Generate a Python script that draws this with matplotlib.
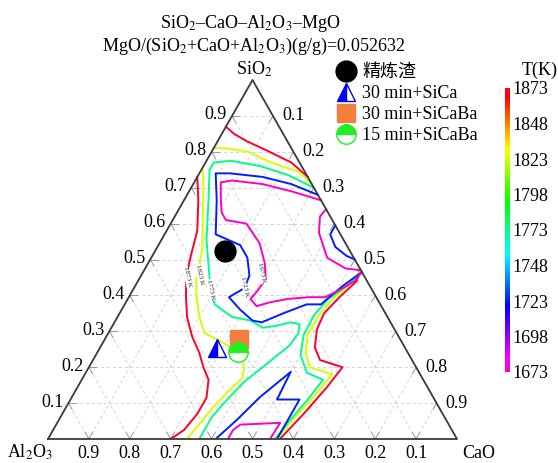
import numpy as np
import matplotlib
matplotlib.use('Agg')
import matplotlib.pyplot as plt
from matplotlib.colors import Normalize
from matplotlib.cm import ScalarMappable

plt.rcParams['font.family'] = ['Liberation Serif', 'Noto Sans CJK SC']
plt.rcParams['mathtext.fontset'] = 'stix'

H = np.sqrt(3) / 2

# isotherms, points are (SiO2, CaO) mass fractions
red_top = [(0.87, 0.0), (0.85, 0.03), (0.83, 0.07), (0.805, 0.13), (0.77, 0.21), (0.73, 0.27)]
red_left = [(0.73, 0.0), (0.665, 0.035), (0.58, 0.075), (0.525, 0.09), (0.49, 0.10), (0.445, 0.115),
            (0.395, 0.14), (0.34, 0.17), (0.285, 0.21), (0.24, 0.25), (0.20, 0.28), (0.165, 0.31),
            (0.115, 0.33), (0.07, 0.33), (0.025, 0.32), (0.0, 0.30)]
red_right = [(0.475, 0.525), (0.44, 0.535), (0.395, 0.515), (0.35, 0.50), (0.305, 0.505), (0.255, 0.525),
             (0.22, 0.555), (0.20, 0.62), (0.145, 0.61), (0.07, 0.59), (0.0, 0.567)]

yel_top = [(0.81, 0.0), (0.81, 0.03), (0.80, 0.09), (0.77, 0.16), (0.745, 0.24), (0.71, 0.29)]
yel_left = [(0.755, 0.0), (0.72, 0.02), (0.535, 0.11), (0.48, 0.13), (0.445, 0.14), (0.405, 0.16),
            (0.34, 0.20), (0.295, 0.235), (0.275, 0.28), (0.255, 0.32), (0.23, 0.355), (0.20, 0.38),
            (0.17, 0.39), (0.135, 0.375), (0.09, 0.36), (0.045, 0.35), (0.0, 0.34)]
yel_right = [(0.47, 0.53), (0.435, 0.525), (0.39, 0.50), (0.34, 0.49), (0.29, 0.49), (0.24, 0.51),
             (0.20, 0.54), (0.18, 0.605), (0.115, 0.59), (0.05, 0.57), (0.0, 0.56)]

cyan_main = [(0.70, 0.30), (0.735, 0.22), (0.76, 0.14), (0.775, 0.06), (0.77, 0.02), (0.75, 0.02),
             (0.665, 0.06), (0.555, 0.11), (0.485, 0.15), (0.415, 0.19), (0.375, 0.22), (0.34, 0.28),
             (0.33, 0.33), (0.31, 0.37), (0.315, 0.40), (0.325, 0.43), (0.32, 0.455), (0.295, 0.465),
             (0.26, 0.46), (0.235, 0.445), (0.20, 0.425), (0.16, 0.40), (0.10, 0.38), (0.06, 0.37),
             (0.0, 0.37)]
cyan_right = [(0.465, 0.535), (0.43, 0.52), (0.39, 0.49), (0.345, 0.478), (0.29, 0.48), (0.235, 0.50),
              (0.185, 0.54), (0.165, 0.59), (0.11, 0.58), (0.05, 0.565), (0.0, 0.555)]

blue_main = [(0.68, 0.32), (0.71, 0.24), (0.73, 0.16), (0.74, 0.075), (0.74, 0.04), (0.665, 0.08),
             (0.57, 0.125), (0.56, 0.15), (0.54, 0.20), (0.505, 0.235), (0.455, 0.265), (0.42, 0.27),
             (0.395, 0.245), (0.36, 0.29), (0.33, 0.335), (0.325, 0.36), (0.35, 0.40), (0.375, 0.445),
             (0.375, 0.48), (0.395, 0.49), (0.43, 0.51), (0.465, 0.535)]
blue_lobe = [(0.595, 0.405), (0.57, 0.405), (0.535, 0.435), (0.51, 0.475), (0.50, 0.50)]
blue_bottom = [(0.0, 0.41), (0.053, 0.435), (0.117, 0.46), (0.187, 0.50), (0.11, 0.505), (0.11, 0.56),
               (0.0, 0.56)]

mag_main = [(0.665, 0.335), (0.69, 0.25), (0.71, 0.17), (0.72, 0.09), (0.715, 0.065), (0.665, 0.09),
            (0.63, 0.11), (0.61, 0.13), (0.60, 0.185), (0.545, 0.245), (0.49, 0.285), (0.445, 0.31),
            (0.41, 0.305), (0.39, 0.30), (0.37, 0.325), (0.38, 0.35), (0.39, 0.39), (0.395, 0.44),
            (0.395, 0.48), (0.415, 0.505), (0.44, 0.53), (0.465, 0.535)]
mag_lobe = [(0.64, 0.36), (0.62, 0.355), (0.575, 0.375), (0.505, 0.43), (0.475, 0.49), (0.47, 0.53)]
mag_bottom = [(0.0, 0.44), (0.025, 0.44), (0.04, 0.45), (0.045, 0.545), (0.0, 0.543)]

isotherms = {
    1873: [red_top, red_left, red_right],
    1823: [yel_top, yel_left, yel_right],
    1773: [cyan_main, cyan_right],
    1723: [blue_main, blue_lobe, blue_bottom],
    1673: [mag_main, mag_lobe, mag_bottom],
}
iso_labels = {1873: (0.451, 0.115), 1823: (0.457, 0.141), 1773: (0.415, 0.189),
              1723: (0.423, 0.27), 1673: (0.462, 0.292)}

# samples (SiO2, CaO)
slag = (0.524, 0.171)
sica_30 = (0.253, 0.286)
sicaba_30 = (0.279, 0.327)
sicaba_15 = (0.242, 0.344)

t_min, t_max = 1673, 1873
cb_ticks = list(range(1673, 1874, 25))
grid_vals = [0.1, 0.2, 0.3, 0.4, 0.5, 0.6, 0.7, 0.8, 0.9]


def tern(s, c):
    s = np.asarray(s, dtype=float)
    c = np.asarray(c, dtype=float)
    return c + s / 2, s * H


cmap = plt.get_cmap('gist_rainbow_r')
norm = Normalize(t_min, t_max)

fig = plt.figure(figsize=(5.58, 4.63), dpi=100)
ax = fig.add_axes([48 / 558, 24 / 463, 409 / 558, 359 / 463])
ax.set_xlim(0, 1)
ax.set_ylim(0, H)
ax.axis('off')

# grid
for g in grid_vals:
    kw = dict(color='#cfcfcf', lw=0.6, ls=(0, (4, 3)), zorder=1)
    ax.plot(*tern([g, g], [0, 1 - g]), **kw)          # const SiO2
    ax.plot(*tern([0, 1 - g], [g, g]), **kw)          # const CaO
    ax.plot(*tern([0, 1 - g], [1 - g, 0]), **kw)      # const Al2O3

# small inward ticks on the edges
t = 0.018
tk = dict(color='#9a9a9a', lw=0.7, zorder=2)
for g in grid_vals:
    # left edge (c = 0)
    ax.plot(*tern([g, g], [0, t]), **tk)
    ax.plot(*tern([g, g - t], [0, t]), **tk)
    # right edge (s + c = 1)
    ax.plot(*tern([1 - g, 1 - g - t], [g, g]), **tk)
    ax.plot(*tern([1 - g, 1 - g - t], [g, g + t]), **tk)
    # bottom edge (s = 0)
    ax.plot(*tern([0, t], [1 - g, 1 - g]), **tk)
    ax.plot(*tern([0, t], [1 - g, 1 - g - t]), **tk)

# frame
ax.plot(*tern([0, 0, 1, 0], [0, 1, 0, 0]), color='#3a3a3a', lw=1.3, zorder=5, clip_on=False)

# tick labels
for g in grid_vals:
    x, y = tern(g, 0)
    ax.annotate(f'{g:.1f}', (x, y), xytext=(-5, 1), textcoords='offset pixels',
                ha='right', va='center', fontsize=13, annotation_clip=False)
    x, y = tern(1 - g, g)
    ax.annotate(f'{g:.1f}', (x, y), xytext=(9, 0), textcoords='offset pixels',
                ha='left', va='center', fontsize=13, annotation_clip=False)
    x, y = tern(0, 1 - g)
    ax.annotate(f'{g:.1f}', (x, y), xytext=(0, -6), textcoords='offset pixels',
                ha='center', va='top', fontsize=13, annotation_clip=False)

ax.annotate('SiO$_2$', tern(1, 0), xytext=(2, 11), textcoords='offset pixels',
            ha='center', va='center', fontsize=13, annotation_clip=False)
ax.annotate('Al$_2$O$_3$', tern(0, 0), xytext=(-18, -4), textcoords='offset pixels',
            ha='center', va='top', fontsize=13, annotation_clip=False)
ax.annotate('CaO', tern(0, 1), xytext=(22, -6), textcoords='offset pixels',
            ha='center', va='top', fontsize=13, annotation_clip=False)

# isotherms
for T, paths in isotherms.items():
    for p in paths:
        p = np.array(p)
        ax.plot(*tern(p[:, 0], p[:, 1]), color=cmap(norm(T)), lw=1.4, zorder=3)
    lx, ly = tern(*iso_labels[T])
    ax.text(lx, ly, f'{T} K', fontsize=5, rotation=-78, ha='center', va='center',
            color='#222222', zorder=4,
            bbox=dict(facecolor='white', edgecolor='none', pad=0.2))

# samples
h1, = ax.plot(*tern(*slag), 'o', ms=15, color='black', zorder=6, label='精炼渣')
h2, = ax.plot(*tern(*sica_30), '^', ms=13, color='blue', fillstyle='left',
              markerfacecoloralt='white', mec='blue', mew=1, zorder=6, label='30 min+SiCa')
h3, = ax.plot(*tern(*sicaba_30), 's', ms=13, color='#f47f3c', mec='#f47f3c', zorder=6,
              label='30 min+SiCaBa')
h4, = ax.plot(*tern(*sicaba_15), 'o', ms=14, color='#22ee22', fillstyle='top',
              markerfacecoloralt='white', mec='#22ee22', mew=1, zorder=6, label='15 min+SiCaBa')

fig.legend(handles=[h1, h2, h3, h4], loc='upper left', bbox_to_anchor=(337 / 558, 1 - 64 / 463),
           frameon=False, fontsize=13, handlelength=1.0, handletextpad=0.4,
           labelspacing=0.22, borderpad=0, borderaxespad=0)

fig.text(250 / 558, 1 - 23 / 463, 'SiO$_2$–CaO–Al$_2$O$_3$–MgO', ha='center', va='center', fontsize=13)
fig.text(254 / 558, 1 - 46 / 463, 'MgO/(SiO$_2$+CaO+Al$_2$O$_3$)(g/g)=0.052632',
         ha='center', va='center', fontsize=13)

# colorbar
cax = fig.add_axes([505 / 558, (463 - 372) / 463, 5 / 558, 284 / 463])
cb = fig.colorbar(ScalarMappable(norm=norm, cmap=cmap), cax=cax, ticks=cb_ticks)
cb.outline.set_visible(False)
cax.tick_params(length=0, labelsize=13, pad=2)
fig.text(540 / 558, 1 - 70 / 463, 'T(K)', ha='center', va='center', fontsize=13)

fig.savefig('out.png', dpi=100)
